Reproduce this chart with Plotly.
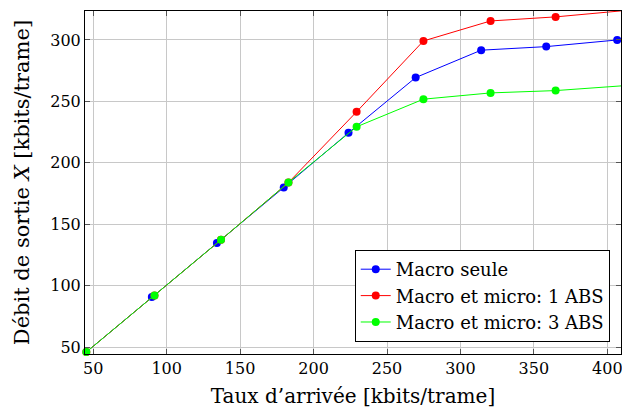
import plotly.graph_objs as go

# Taux d'arrivée (x) and débit de sortie (y), kbits/trame
x_seule = [43.7, 89.9, 134.2, 179.7, 223.8, 269.5, 314.1, 358.4, 406.7]
y_seule = [44.3, 90.7, 134.6, 179.9, 224.4, 269.4, 291.7, 294.6, 300.0]

x_1abs = [45.3, 91.7, 137.0, 182.9, 229.3, 274.8, 320.5, 364.8, 414.0]
y_1abs = [45.9, 92.0, 137.3, 183.9, 241.5, 299.2, 315.5, 318.8, 324.2]

x_3abs = [45.3, 91.7, 137.0, 182.9, 229.3, 274.8, 320.5, 364.8, 414.0]
y_3abs = [45.9, 92.0, 137.3, 183.9, 229.3, 251.8, 256.9, 258.8, 263.0]

x_ticks = [50, 100, 150, 200, 250, 300, 350, 400]
y_ticks = [50, 100, 150, 200, 250, 300]

font = "DejaVu Serif"

fig = go.Figure()
for name, xs, ys, col in [
    ("Macro seule", x_seule, y_seule, "#0000ff"),
    ("Macro et micro: 1 ABS", x_1abs, y_1abs, "#ff0000"),
    ("Macro et micro: 3 ABS", x_3abs, y_3abs, "#00ff00"),
]:
    fig.add_trace(go.Scatter(
        x=xs, y=ys, name=name, mode="lines+markers",
        line=dict(color=col, width=1),
        marker=dict(color=col, size=8),
        cliponaxis=False,
    ))

axis_common = dict(
    showline=True, linecolor="black", linewidth=1, mirror="ticks",
    ticks="inside", ticklen=5, tickcolor="#555",
    showgrid=True, gridcolor="#c8c8c8", gridwidth=1,
    zeroline=False, automargin=False, ticklabeloverflow="allow",
    tickfont=dict(family=font, size=16, color="black"),
)

fig.update_xaxes(
    range=[44.4, 409.3], tickvals=x_ticks,
    title=dict(text="Taux d’arrivée [kbits/trame]",
               font=dict(family=font, size=20, color="black"), standoff=11),
    **axis_common,
)
fig.update_yaxes(
    range=[44.3, 323.6], tickvals=y_ticks,
    title=dict(text="Débit de sortie <i>X</i> [kbits/trame]",
               font=dict(family=font, size=21, color="black"), standoff=14),
    **axis_common,
)

fig.update_layout(
    width=622, height=413,
    margin=dict(l=85, r=1, t=11, b=59),
    plot_bgcolor="white", paper_bgcolor="white",
    legend=dict(
        x=0.979, y=0.035, xanchor="right", yanchor="bottom",
        bordercolor="black", borderwidth=1, bgcolor="white",
        font=dict(family=font, size=18, color="black"),
        tracegroupgap=0, itemwidth=30,
    ),
)

fig.write_html("out.html", config={"displayModeBar": False},
               post_script="document.body.style.margin='0';")
